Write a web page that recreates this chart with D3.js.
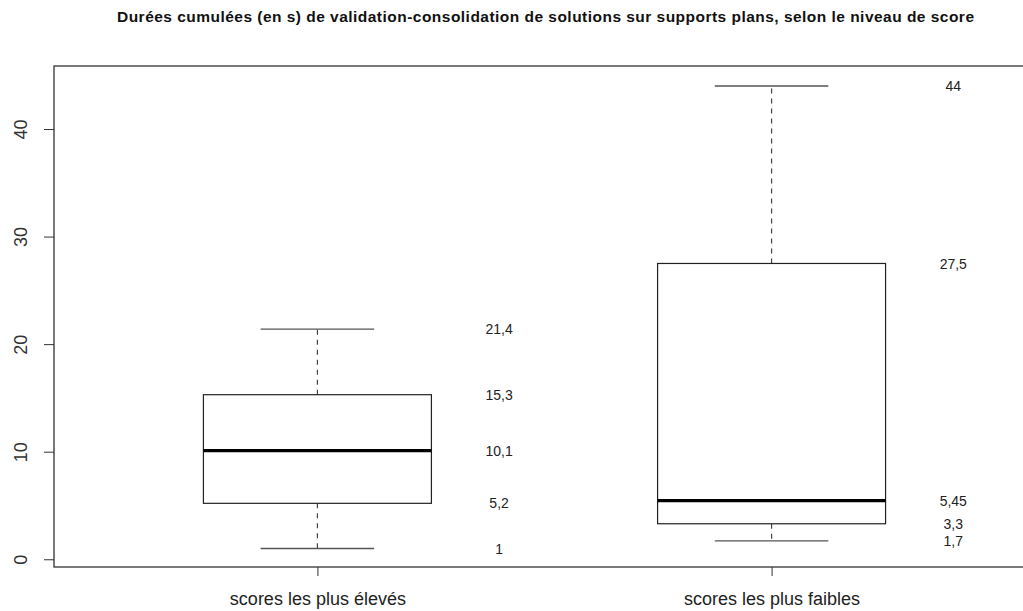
<!DOCTYPE html>
<html>
<head>
<meta charset="utf-8">
<script src="https://cdn.jsdelivr.net/npm/d3@7"></script>
<style>
html,body{margin:0;padding:0;background:#fff;}
svg{display:block;font-family:"Liberation Sans",Arial,Helvetica,sans-serif;}
</style>
</head>
<body>
<svg id="chart" width="1023" height="611"></svg>
<script>
const title = "Durées cumulées (en s) de validation-consolidation de solutions sur supports plans, selon le niveau de score";
const categories = ["scores les plus élevés", "scores les plus faibles"];
const mins    = [1, 1.7];
const q1s     = [5.2, 3.3];
const medians = [10.1, 5.45];
const q3s     = [15.3, 27.5];
const maxs    = [21.4, 44];
const yTicks  = [0, 10, 20, 30, 40];
const labelTexts = [
  ["21,4", "15,3", "10,1", "5,2", "1"],
  ["44", "27,5", "5,45", "3,3", "1,7"]
];

const svg = d3.select("#chart");
const mLeft = 54, mRight = 1035, mTop = 66, mBottom = 567;

const x = d3.scaleLinear().domain([0.42, 2.58]).range([mLeft, mRight]);
const y = d3.scaleLinear().domain([-0.72, 45.72]).range([mBottom, mTop + 1.5]);

// title
svg.append("text")
  .attr("x", 117)
  .attr("y", 22)
  .attr("font-weight", "bold")
  .attr("font-size", 15.5)
  .attr("fill", "#111")
  .attr("textLength", 857)
  .attr("lengthAdjust", "spacing")
  .text(title);

// frame
svg.append("rect")
  .attr("x", mLeft).attr("y", mTop)
  .attr("width", mRight - mLeft).attr("height", mBottom - mTop)
  .attr("fill", "none").attr("stroke", "#222").attr("stroke-width", 1.2);

// y axis
const yAxis = d3.axisLeft(y).tickValues(yTicks).tickSize(10).tickPadding(6).tickFormat(d3.format("d"));
const gy = svg.append("g").attr("transform", `translate(${mLeft},0)`).call(yAxis);
gy.select(".domain").remove();
gy.selectAll(".tick line").attr("stroke", "#333");
gy.selectAll(".tick text")
  .attr("font-size", 18).attr("fill", "#333")
  .attr("font-family", "Liberation Sans, Arial, sans-serif")
  .attr("text-anchor", "middle")
  .attr("x", null).attr("dy", null)
  .attr("transform", "translate(-27,0) rotate(-90)");

// x axis
const xAxis = d3.axisBottom(x).tickValues([1, 2]).tickSize(9).tickPadding(16).tickFormat((d, i) => categories[i]);
const gx = svg.append("g").attr("transform", `translate(0,${mBottom})`).call(xAxis);
gx.select(".domain").remove();
gx.selectAll(".tick line").attr("stroke", "#333");
gx.selectAll(".tick text").attr("font-size", 18).attr("fill", "#222")
  .attr("font-family", "Liberation Sans, Arial, sans-serif")
  .attr("y", 38).attr("dy", null);

const boxHalf = 0.251, capHalf = 0.125;
const idx = d3.range(categories.length);

const g = svg.append("g");
idx.forEach(i => {
  const cx = i + 1;
  // whiskers
  g.append("line").attr("x1", x(cx)).attr("x2", x(cx)).attr("y1", y(q3s[i])).attr("y2", y(maxs[i]))
    .attr("stroke", "#444").attr("stroke-width", 1.2).attr("stroke-dasharray", "5,5");
  g.append("line").attr("x1", x(cx)).attr("x2", x(cx)).attr("y1", y(q1s[i])).attr("y2", y(mins[i]))
    .attr("stroke", "#444").attr("stroke-width", 1.2).attr("stroke-dasharray", "5,5");
  // caps
  [mins[i], maxs[i]].forEach(v => {
    g.append("line").attr("x1", x(cx - capHalf)).attr("x2", x(cx + capHalf)).attr("y1", y(v)).attr("y2", y(v))
      .attr("stroke", "#555").attr("stroke-width", 1.3);
  });
  // box
  g.append("rect").attr("x", x(cx - boxHalf)).attr("width", x(cx + boxHalf) - x(cx - boxHalf))
    .attr("y", y(q3s[i])).attr("height", y(q1s[i]) - y(q3s[i]))
    .attr("fill", "none").attr("stroke", "#222").attr("stroke-width", 1.2);
  // median
  g.append("line").attr("x1", x(cx - boxHalf)).attr("x2", x(cx + boxHalf)).attr("y1", y(medians[i])).attr("y2", y(medians[i]))
    .attr("stroke", "#000").attr("stroke-width", 3.2);
  // value labels
  const vals = [maxs[i], q3s[i], medians[i], q1s[i], mins[i]];
  vals.forEach((v, j) => {
    g.append("text").attr("x", x(cx + 0.4)).attr("y", y(v)).attr("dy", "0.36em")
      .attr("text-anchor", "middle").attr("font-size", 14).attr("fill", "#222")
      .text(labelTexts[i][j]);
  });
});
</script>
</body>
</html>
